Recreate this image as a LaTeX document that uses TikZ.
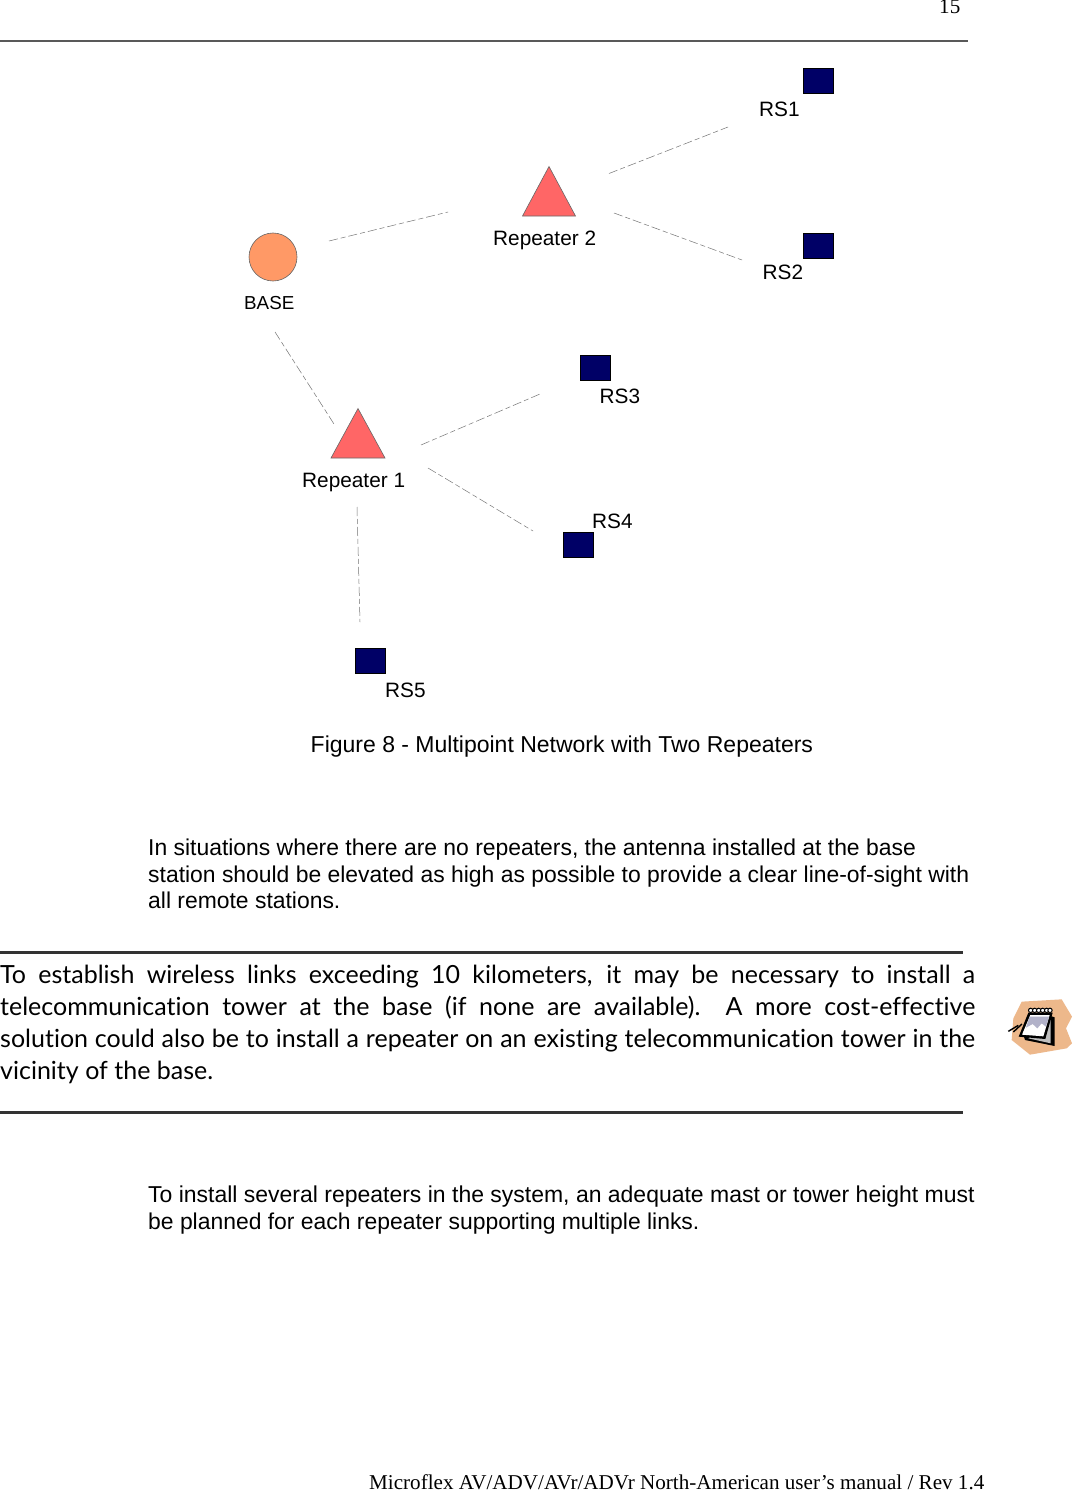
\documentclass[tikz,border=0pt]{standalone}
\usepackage{fontspec}
\setmainfont{Liberation Sans}
\newfontfamily\timesf{Liberation Serif}
\newfontfamily\handf[RawFeature=-liga]{Lato}
\definecolor{rsblue}{HTML}{000066}
\definecolor{basecol}{HTML}{FF9966}
\definecolor{repcol}{HTML}{FF6666}
\definecolor{iconbg}{HTML}{EDB88B}
\tikzset{
  station/.style={draw=black,line width=0.6pt,fill=rsblue,minimum width=30pt,minimum height=25pt,inner sep=0pt,outer sep=0pt},
  basenode/.style={circle,draw=black!60,line width=0.6pt,fill=basecol,minimum size=48pt,inner sep=0pt},
  repeater/.style={draw=black!60,line width=0.6pt,fill=repcol},
  link/.style={draw=black!55,line width=0.5pt,dash pattern=on 9pt off 3pt on 5pt off 3pt},
  lab/.style={anchor=base west,inner sep=0pt,font=\fontsize{20.8}{25}\selectfont},
  para/.style={anchor=base west,inner sep=0pt,font=\fontsize{22.9}{27}\selectfont},
  hand/.style={anchor=base west,inner sep=0pt,font=\handf\fontsize{25}{30}\selectfont},
  tim/.style={anchor=base west,inner sep=0pt,font=\timesf\fontsize{21.1}{25}\selectfont},
  hrule/.style={draw=black!80,line width=2.2pt}
}
\newcommand{\handline}[1]{\makebox[975pt][s]{#1}}
\begin{document}
\begin{tikzpicture}[x=1pt,y=-1pt]
\useasboundingbox (0,0) rectangle (1072,1490);
\fill[white] (0,0) rectangle (1072,1490);
% header
\node[tim] (pageno) at (939,14) {15};
\coordinate (hl) at (0,41.5); \coordinate (hr) at (968,41.5);
\draw[draw=black!65,line width=2pt] (hl) -- (hr);
% stations
\node[station] (rs1) at (818.5,81) {};
\node[station] (rs2) at (818.5,246) {};
\node[station] (rs3) at (595.5,368) {};
\node[station] (rs4) at (578.5,544.5) {};
\node[station] (rs5) at (370,660.5) {};
\node[basenode] (base) at (273,257) {};
\draw[repeater] (549,166.5) -- (575.5,216) -- (522.5,216) -- cycle;
\draw[repeater] (358,408.5) -- (385,458) -- (331,458) -- cycle;
% labels
\node[lab] (lrs1) at (759,116.5) {RS1};
\node[lab] (lrs2) at (762.5,279) {RS2};
\node[lab] (lrs3) at (599.5,403) {RS3};
\node[lab] (lrs4) at (592,528) {RS4};
\node[lab] (lrs5) at (385,697) {RS5};
\node[lab] (lr2) at (493,245) {Repeater 2};
\node[lab] (lr1) at (302,487) {Repeater 1};
\node[lab,font=\fontsize{18.8}{23}\selectfont] (lbase) at (244,309) {BASE};
\node[lab,font=\fontsize{23}{27}\selectfont] (cap) at (310.5,752) {Figure 8 - Multipoint Network with Two Repeaters};
% connector ends
\coordinate (a1) at (329,241); \coordinate (a2) at (448,212);
\coordinate (b1) at (609,173.5); \coordinate (b2) at (728,127);
\coordinate (c1) at (614,213); \coordinate (c2) at (742,260);
\coordinate (d1) at (275,332); \coordinate (d2) at (334,424);
\coordinate (e1) at (421,445); \coordinate (e2) at (540,394);
\coordinate (f1) at (428,468); \coordinate (f2) at (533,531);
\coordinate (g1) at (357,507); \coordinate (g2) at (360,622);
\draw[link] (a1) -- (a2);
\draw[link] (b1) -- (b2);
\draw[link] (c1) -- (c2);
\draw[link] (d1) -- (d2);
\draw[link] (e1) -- (e2);
\draw[link] (f1) -- (f2);
\draw[link] (g1) -- (g2);
% paragraphs
\node[para] (p1) at (148,855) {In situations where there are no repeaters, the antenna installed at the base};
\node[para] (p2) at (148,882) {station should be elevated as high as possible to provide a clear line-of-sight with};
\node[para] (p3) at (148,908) {all remote stations.};
\coordinate (r1l) at (0,952.5); \coordinate (r1r) at (963,952.5);
\draw[hrule] (r1l) -- (r1r);
\node[hand] (n1) at (0,983) {\handline{To establish wireless links exceeding 10 kilometers, it may be necessary to install a}};
\node[hand] (n2) at (0,1015) {\handline{telecommunication tower at the base (if none are available).\ \ A more cost-effective}};
\node[hand] (n3) at (0,1047) {\handline{solution could also be to install a repeater on an existing telecommunication tower in the}};
\node[hand] (n4) at (0,1079) {vicinity of the base.};
\coordinate (r2l) at (0,1112.5); \coordinate (r2r) at (963,1112.5);
\draw[hrule] (r2l) -- (r2r);
\node[para,font=\fontsize{22.98}{27}\selectfont] (p4) at (148,1202) {To install several repeaters in the system, an adequate mast or tower height must};
\node[para] (p5) at (148,1229) {be planned for each repeater supporting multiple links.};
\node[tim] (foot) at (369,1489.8) {Microflex AV/ADV/AVr/ADVr North-American user’s manual / Rev 1.4};
% note icon
\begin{scope}[shift={(960,960)},x=0.3333pt,y=-0.3333pt]
\fill[iconbg] (185,125) -- (305,118) -- (336,170) -- (318,205) -- (336,250) -- (320,265) -- (210,284) -- (155,240) -- (160,175) -- cycle;
\fill[black] (262,165) -- (284,172) -- (284,258) -- (195,240) -- (190,225) -- cycle;
\fill[black!25] (258,172) -- (272,180) -- (272,250) -- (205,235) -- cycle;
\fill[black] (205,158) -- (278,158) -- (256,237) -- (176,230) -- cycle;
\fill[white] (211,165) -- (269,165) -- (250,229) -- (186,224) -- cycle;
\fill[blue!30!black!30] (209,170) -- (267,170) -- (258,200) -- (245,190) -- (232,205) -- (218,192) -- (198,203) -- cycle;
\foreach \rx in {212,224,236,248,260,270}
  \draw[black,line width=1pt,fill=white] (\rx,151) circle[radius=6.5];
\draw[black,line width=1.4pt] (145,214) -- (175,196);
\draw[black,line width=1.4pt] (160,216) -- (186,192);
\end{scope}
\end{tikzpicture}
\end{document}
